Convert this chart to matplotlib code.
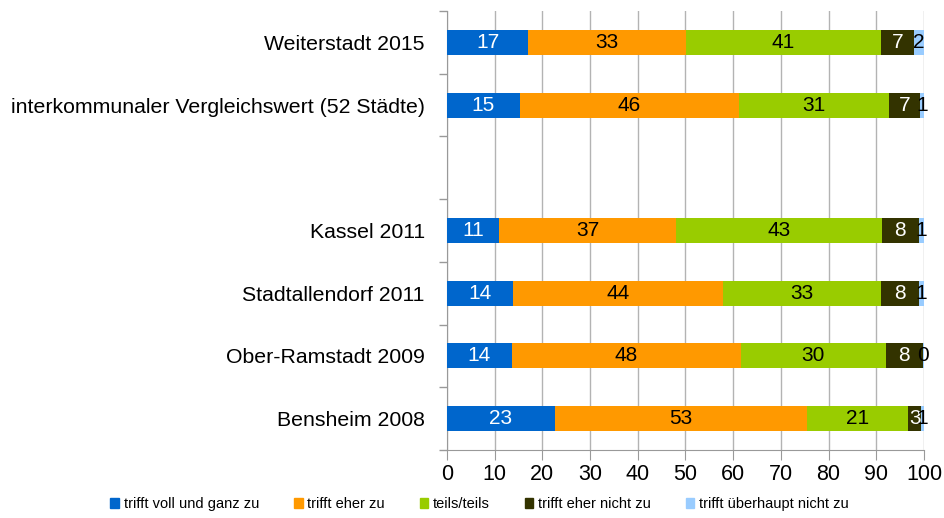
import matplotlib
matplotlib.use("Agg")
import matplotlib.pyplot as plt
from matplotlib.patches import Patch

plt.rcParams['font.family'] = ['Liberation Sans', 'DejaVu Sans']

cats = ["Weiterstadt 2015", "interkommunaler Vergleichswert (52 Städte)", "",
        "Kassel 2011", "Stadtallendorf 2011", "Ober-Ramstadt 2009", "Bensheim 2008"]
series = ["trifft voll und ganz zu", "trifft eher zu", "teils/teils",
          "trifft eher nicht zu", "trifft überhaupt nicht zu"]
# bar lengths (None = empty row)
voll   = [17.0, 15.3, None, 10.9, 13.8, 13.6, 22.6]
eher   = [33.1, 45.9, None, 37.1, 44.1, 48.0, 52.9]
teils  = [40.9, 31.4, None, 43.1, 33.1, 30.4, 21.2]
nicht  = [7.0, 6.6, None, 7.9, 8.0, 7.7, 2.7]
gar    = [2.0, 0.8, None, 1.0, 1.0, 0.3, 0.6]
# printed labels
lab_voll  = [17, 15, None, 11, 14, 14, 23]
lab_eher  = [33, 46, None, 37, 44, 48, 53]
lab_teils = [41, 31, None, 43, 33, 30, 21]
lab_nicht = [7, 7, None, 8, 8, 8, 3]
lab_gar   = [2, 1, None, 1, 1, 0, 1]

colors = ["#0066cc", "#ff9900", "#99cc00", "#333300", "#99ccff"]
txtcol = ["white", "black", "black", "white", "black"]

fig = plt.figure(figsize=(9.44, 5.18), dpi=100)
ax = fig.add_axes([0.4735, 0.1313, 0.5053, 0.8475])

vals = [voll, eher, teils, nicht, gar]
labs = [lab_voll, lab_eher, lab_teils, lab_nicht, lab_gar]
ypos = list(range(len(cats)))
for i, y in enumerate(ypos):
    if voll[i] is None:
        continue
    left = 0
    for s in range(5):
        w = vals[s][i]
        ax.barh(y, w, left=left, height=0.4, color=colors[s], zorder=3)
        ax.text(left + w / 2, y, str(labs[s][i]), ha="center", va="center",
                color=txtcol[s], fontsize=15, zorder=4)
        left += w

ax.set_xlim(0, 100)
ax.set_ylim(len(cats) - 0.5, -0.5)
ax.set_xticks(range(0, 101, 10))
ax.set_yticks(ypos)
ax.set_yticklabels(cats, fontsize=15.3)
ax.set_yticks([y + 0.5 for y in range(-1, len(cats))], minor=True)
ax.tick_params(axis="y", which="major", length=0, pad=16)
ax.tick_params(axis="y", which="minor", length=6, color="#999999", width=1)
ax.tick_params(axis="x", length=7, color="#999999", labelsize=15.5, pad=3)
ax.grid(axis="x", color="#b3b3b3", lw=1, zorder=0)
for sp in ["top", "right"]:
    ax.spines[sp].set_visible(False)
for sp in ["left", "bottom"]:
    ax.spines[sp].set_color("#999999")

handles = [Patch(color=c, label=l) for c, l in zip(colors, series)]
fig.legend(handles=handles, loc="lower center", bbox_to_anchor=(0.508, -0.012), ncol=5,
           frameon=False, fontsize=10.5, handlelength=0.6, handleheight=0.6,
           handletextpad=0.3, columnspacing=2.4)

fig.savefig("out.png", dpi=100)
